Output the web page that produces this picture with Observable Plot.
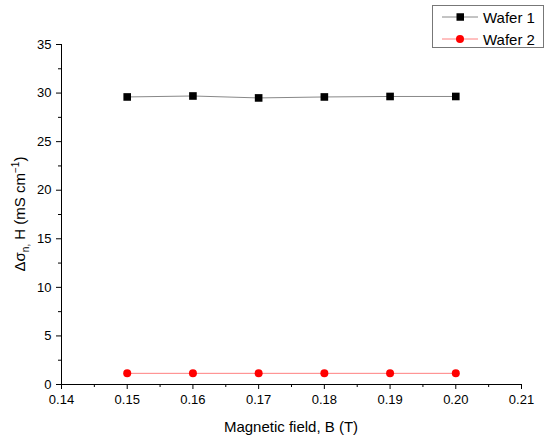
<!DOCTYPE html>
<html>
<head>
<meta charset="utf-8">
<script src="https://cdn.jsdelivr.net/npm/d3@7"></script>
<script src="https://cdn.jsdelivr.net/npm/@observablehq/plot@0.6"></script>
<style>
  html, body { margin: 0; padding: 0; background: #fff; }
  #chart { position: relative; width: 550px; height: 441px; }
  svg { font-family: "Liberation Sans", Arial, sans-serif; }
</style>
</head>
<body>
<div id="chart"></div>
<script>
const fields = [0.15, 0.16, 0.17, 0.18, 0.19, 0.20];
const wafer1 = [29.6, 29.7, 29.5, 29.6, 29.65, 29.65];
const wafer2 = [1.15, 1.15, 1.15, 1.15, 1.15, 1.15];
const seriesNames = ["Wafer 1", "Wafer 2"];
const xTicks = [0.14, 0.15, 0.16, 0.17, 0.18, 0.19, 0.20, 0.21];
const xMinor = [0.145, 0.155, 0.165, 0.175, 0.185, 0.195, 0.205];
const yTicks = [0, 5, 10, 15, 20, 25, 30, 35];
const yMinor = [2.5, 7.5, 12.5, 17.5, 22.5, 27.5, 32.5];

const d1 = fields.map((x, i) => ({x, y: wafer1[i]}));
const d2 = fields.map((x, i) => ({x, y: wafer2[i]}));

const plot = Plot.plot({
  width: 550,
  height: 441,
  marginLeft: 61,
  marginRight: 29,
  marginTop: 44,
  marginBottom: 57,
  style: {fontFamily: "Liberation Sans, Arial, sans-serif", fontSize: "13px", color: "#000", background: "#fff"},
  x: {domain: [0.14, 0.21]},
  y: {domain: [0, 35]},
  marks: [
    Plot.axisX({ticks: xTicks, tickFormat: d3.format(".2f"), tickSize: 5, tickPadding: 5, fontSize: 13, label: null, stroke: "#000", strokeOpacity: 1}),
    Plot.axisX({ticks: xMinor, tickFormat: () => "", tickSize: 3, label: null, stroke: "#000", strokeOpacity: 1}),
    Plot.axisY({ticks: yTicks, tickSize: 5, tickPadding: 5, fontSize: 13, label: null, stroke: "#000", strokeOpacity: 1}),
    Plot.axisY({ticks: yMinor, tickFormat: () => "", tickSize: 3, label: null, stroke: "#000", strokeOpacity: 1}),
    Plot.ruleY([0], {stroke: "#000", strokeWidth: 1}),
    Plot.ruleX([0.14], {stroke: "#000", strokeWidth: 1}),
    Plot.line(d1, {x: "x", y: "y", stroke: "#888", strokeWidth: 1}),
    Plot.line(d2, {x: "x", y: "y", stroke: "#ff8080", strokeWidth: 1}),
    Plot.dot(d1, {x: "x", y: "y", symbol: "square", r: 4.3, fill: "#000", stroke: "none"}),
    Plot.dot(d2, {x: "x", y: "y", symbol: "circle", r: 4, fill: "#ff0000", stroke: "none"})
  ]
});
document.getElementById("chart").appendChild(plot);

const svg = d3.select(plot);
// x-axis title
svg.append("text")
  .attr("x", 291).attr("y", 432)
  .attr("text-anchor", "middle")
  .attr("font-size", 15)
  .attr("fill", "#000")
  .text("Magnetic field, B (T)");

// y-axis title with subscript / superscript
const yl = svg.append("text")
  .attr("transform", "translate(25,214) rotate(-90)")
  .attr("text-anchor", "middle")
  .attr("font-size", 15)
  .attr("fill", "#000");
yl.append("tspan").text("Δσ");
yl.append("tspan").attr("font-size", 10).attr("dy", 4).text("n,");
yl.append("tspan").attr("dy", -4).text(" H (mS cm");
yl.append("tspan").attr("font-size", 10).attr("dy", -6).text("−1");
yl.append("tspan").attr("dy", 6).text(")");

// legend
const lg = svg.append("g").attr("text-anchor", "start");
lg.append("rect").attr("x", 432.5).attr("y", 5.5).attr("width", 111).attr("height", 42)
  .attr("fill", "#fff").attr("stroke", "#777").attr("stroke-width", 1);
const legendItems = [
  {name: seriesNames[0], line: "#888", fill: "#000", sym: "square"},
  {name: seriesNames[1], line: "#ff8080", fill: "#ff0000", sym: "circle"}
];
legendItems.forEach((it, i) => {
  const cy = 17 + i * 22;
  lg.append("line").attr("x1", 442).attr("x2", 478).attr("y1", cy).attr("y2", cy)
    .attr("stroke", it.line).attr("stroke-width", 1);
  if (it.sym === "square") {
    lg.append("rect").attr("x", 456.5).attr("y", cy - 3.75).attr("width", 7.5).attr("height", 7.5).attr("fill", it.fill);
  } else {
    lg.append("circle").attr("cx", 460).attr("cy", cy).attr("r", 4).attr("fill", it.fill);
  }
  lg.append("text").attr("x", 483).attr("y", cy + 5.5).attr("text-anchor", "start").attr("font-size", 15).attr("fill", "#000").text(it.name);
});
</script>
</body>
</html>
